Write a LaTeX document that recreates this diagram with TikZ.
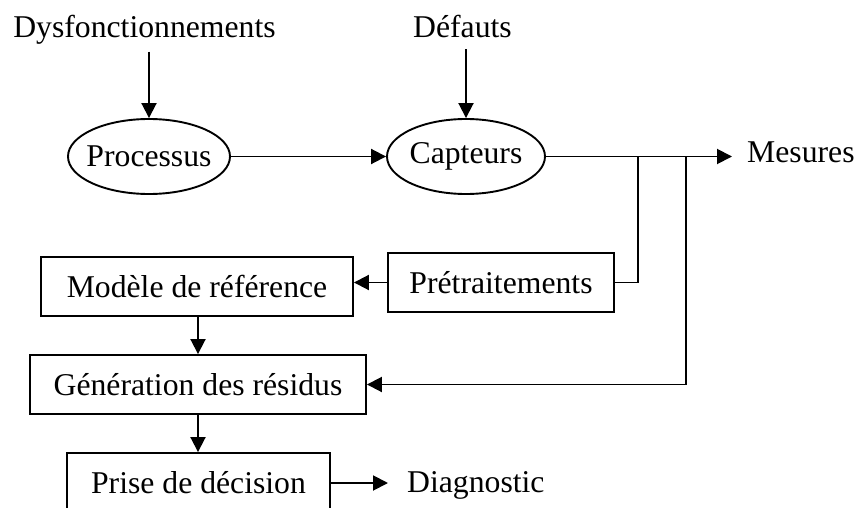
\documentclass[tikz,border=0pt]{standalone}
\usepackage{fontspec}
\setmainfont{Liberation Serif}
\usetikzlibrary{shapes.geometric,arrows.meta}
\begin{document}
\begin{tikzpicture}[x=1pt,y=-1pt,
  every node/.style={font=\fontsize{31.7pt}{38pt}\selectfont},
  ln/.style={line width=1.9pt},
  arr/.style={ln,-{Triangle[length=15pt,width=15pt]}},
  ovalbox/.style={ellipse,draw,line width=1.9pt,inner sep=0pt},
  blockbox/.style={rectangle,draw,line width=1.9pt,inner sep=0pt,minimum height=59pt},
  plain/.style={inner sep=0pt}]
\useasboundingbox (0,0) rectangle (857,508);
\clip (0,0) rectangle (857,508);
% text labels
\node[plain,anchor=base] (dys) at (144.5,37.5) {Dysfonctionnements};
\node[plain,anchor=base] (def) at (462.5,37.5) {Défauts};
\node[plain,anchor=base west] (mes) at (747,163) {Mesures};
\node[plain,anchor=base west] (diag) at (407,492) {Diagnostic};
% ellipses
\node[ovalbox,minimum width=162pt,minimum height=75pt,
      label={[plain]center:Processus}] (proc) at (149,156.5) {};
\node[ovalbox,minimum width=158pt,minimum height=75pt,
      label={[plain]center:Capteurs}] (capt) at (466,156.5) {};
% boxes
\node[blockbox,minimum width=226pt] (pre) at (501,282.5) {Prétraitements};
\node[blockbox,minimum width=312pt] (mod) at (197,286.5) {Modèle de référence};
\node[blockbox,minimum width=336pt] (gen) at (198,384.5) {Génération des résidus};
\node[blockbox,minimum width=263pt] (pri) at (198.5,482.5) {Prise de décision};
% junctions
\coordinate (j1) at (638,156.5);
\coordinate (j2) at (686,156.5);
% connectors
\draw[arr] ([yshift=-7pt]dys.south -| proc.north) -- (proc.north);
\draw[arr] ([yshift=-11pt]def.south -| capt.north) -- (capt.north);
\draw[arr] (proc.east) -- (capt.west);
\draw[arr] (capt.east) -- ([xshift=-15pt]mes.west |- capt.east);
\draw[ln] (j1) |- (pre.east);
\draw[arr] (j2) |- (gen.east);
\draw[arr] (pre.west) -- (pre.west -| mod.east);
\draw[arr] (mod.south -| gen.north) -- (gen.north);
\draw[arr] (gen.south) -- (gen.south |- pri.north);
\draw[arr] (pri.east |- 0,483) -- ([xshift=-19pt]diag.west |- 0,483);
\end{tikzpicture}
\end{document}
